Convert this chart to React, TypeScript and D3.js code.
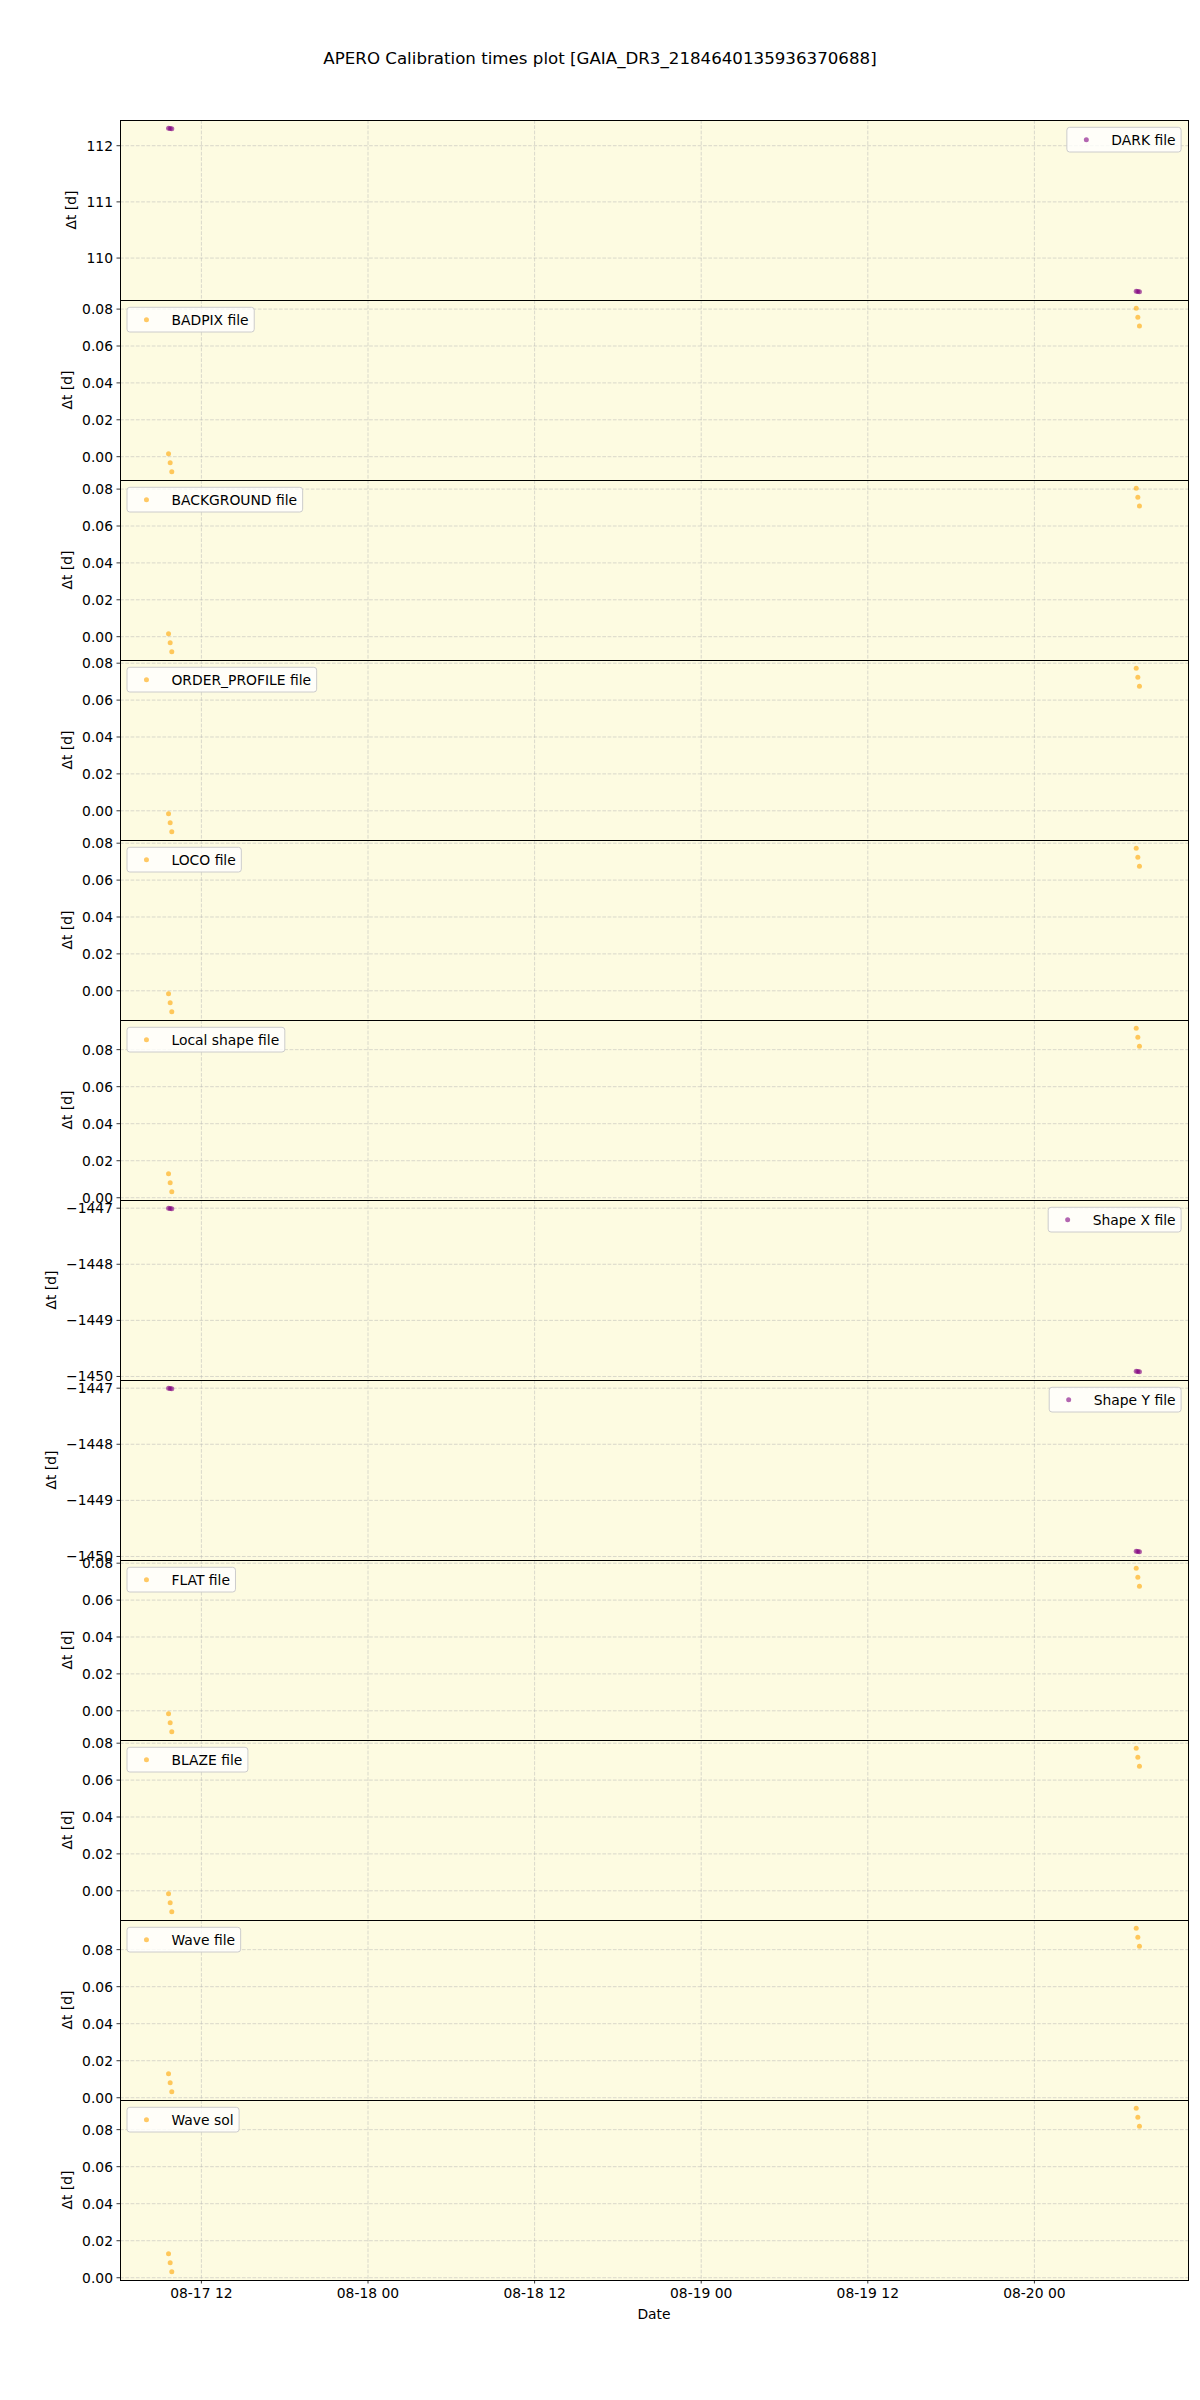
import React from "react";
import * as d3 from "d3";

const title = "APERO Calibration times plot [GAIA_DR3_2184640135936370688]";

// observation times (x) of the six points
const obsTimes = [
  "2023-08-17T09:38:00Z",
  "2023-08-17T09:45:00Z",
  "2023-08-17T09:52:00Z",
  "2023-08-20T07:20:00Z",
  "2023-08-20T07:27:00Z",
  "2023-08-20T07:34:00Z",
];

// Δt values per calibration type (days)
const darkDt = [112.312, 112.307, 112.302, 109.409, 109.404, 109.399];
const badpixDt = [0.0016, -0.0033, -0.0082, 0.0805, 0.0756, 0.0708];
const backgroundDt = [0.0016, -0.0033, -0.0082, 0.0805, 0.0756, 0.0708];
const orderProfileDt = [-0.0016, -0.0065, -0.0114, 0.0773, 0.0724, 0.0675];
const locoDt = [-0.0016, -0.0065, -0.0114, 0.0773, 0.0724, 0.0675];
const localShapeDt = [0.013, 0.0081, 0.0032, 0.0916, 0.0867, 0.0818];
const shapeXDt = [-1447.0, -1447.005, -1447.01, -1449.907, -1449.912, -1449.917];
const shapeYDt = [-1447.0, -1447.005, -1447.01, -1449.907, -1449.912, -1449.917];
const flatDt = [-0.0016, -0.0065, -0.0114, 0.0773, 0.0724, 0.0675];
const blazeDt = [-0.0016, -0.0065, -0.0114, 0.0773, 0.0724, 0.0675];
const waveFileDt = [0.013, 0.0081, 0.0032, 0.0916, 0.0867, 0.0818];
const waveSolDt = [0.013, 0.0081, 0.0032, 0.0916, 0.0867, 0.0818];

// tick values
const xTickTimes = [
  "2023-08-17T12:00:00Z",
  "2023-08-18T00:00:00Z",
  "2023-08-18T12:00:00Z",
  "2023-08-19T00:00:00Z",
  "2023-08-19T12:00:00Z",
  "2023-08-20T00:00:00Z",
];
const darkTicks = [110, 111, 112];
const fileTicks = [0, 0.02, 0.04, 0.06, 0.08];
const shapeTicks = [-1450, -1449, -1448, -1447];

const panelLabels = [
  "DARK file",
  "BADPIX file",
  "BACKGROUND file",
  "ORDER_PROFILE file",
  "LOCO file",
  "Local shape file",
  "Shape X file",
  "Shape Y file",
  "FLAT file",
  "BLAZE file",
  "Wave file",
  "Wave sol",
];
const panelValues = [
  darkDt, badpixDt, backgroundDt, orderProfileDt, locoDt, localShapeDt,
  shapeXDt, shapeYDt, flatDt, blazeDt, waveFileDt, waveSolDt,
];
const panelTicks = [
  darkTicks, fileTicks, fileTicks, fileTicks, fileTicks, fileTicks,
  shapeTicks, shapeTicks, fileTicks, fileTicks, fileTicks, fileTicks,
];
const panelKinds = ["big", "file", "file", "file", "file", "file", "big", "big", "file", "file", "file", "file"];

const W = 1200;
const H = 2400;
const LEFT = 120;
const RIGHT = 1188;
const TOP = 120;
const PH = 180;
const FS = 13.89;
const FONT = "DejaVu Sans";
const BG = "#fdfbe1";
const ORANGE = "#ffa500";
const PURPLE = "#800080";

function measure(txt: string, size: number) {
  const c = document.createElement("canvas").getContext("2d");
  if (!c) return txt.length * size * 0.6;
  c.font = `${size}px "${FONT}"`;
  return c.measureText(txt).width;
}

function padExtent(vals: number[]): [number, number] {
  const [a, b] = d3.extent(vals) as [number, number];
  const m = (b - a) * 0.05;
  return [a - m, b + m];
}

export default function App() {
  const times = obsTimes.map((s) => new Date(s));
  const tExt = d3.extent(times) as [Date, Date];
  const tPad = (tExt[1].getTime() - tExt[0].getTime()) * 0.05;
  const x = d3
    .scaleUtc()
    .domain([new Date(tExt[0].getTime() - tPad), new Date(tExt[1].getTime() + tPad)])
    .range([LEFT, RIGHT]);
  const xTicks = xTickTimes.map((s) => new Date(s));
  const fmtX = d3.utcFormat("%m-%d %H");
  const bottom = TOP + PH * panelLabels.length;

  return (
    <svg
      width={W}
      height={H}
      style={{ position: "absolute", left: 0, top: 0, background: "#fff" }}
      fontFamily={FONT}
    >
      <rect x={0} y={0} width={W} height={H} fill="#fff" />
      <text x={600} y={64} textAnchor="middle" fontSize={16.67} fill="#000">
        {title}
      </text>
      {panelLabels.map((label, i) => {
        const vals = panelValues[i];
        const y0 = TOP + i * PH;
        const y = d3.scaleLinear().domain(padExtent(vals)).range([y0 + PH, y0]);
        const [d0, d1] = y.domain();
        const ticks = panelTicks[i].filter((t) => t >= d0 - 1e-9 && t <= d1 + 1e-9);
        const fmtY = panelKinds[i] === "file" ? d3.format(".2f") : d3.format("d");
        const isPurple = panelKinds[i] === "big";
        const color = isPurple ? PURPLE : ORANGE;
        const tickLabels = ticks.map((t) => fmtY(t));
        const maxW = d3.max(tickLabels, (s) => measure(s, FS)) || 0;
        const ylabX = LEFT - 7 - maxW - 15.5;
        // legend
        const txtW = measure(label, FS);
        const boxW = 5.56 * 2 + 27.8 + 11.1 + txtW;
        const boxH = 24.7;
        const legRight = isPurple;
        const boxX = legRight ? RIGHT - 6.9 - boxW : LEFT + 7;
        const boxY = y0 + 7.3;
        return (
          <g key={label}>
            <rect x={LEFT} y={y0} width={RIGHT - LEFT} height={PH} fill={BG} />
            {xTicks.map((t, k) => (
              <line
                key={"gx" + k}
                x1={x(t)}
                x2={x(t)}
                y1={y0}
                y2={y0 + PH}
                stroke="#b0b0b0"
                strokeOpacity={0.6}
                strokeWidth={0.8}
                strokeDasharray="3.7 1.6"
              />
            ))}
            {ticks.map((t, k) => (
              <line
                key={"gy" + k}
                x1={LEFT}
                x2={RIGHT}
                y1={y(t)}
                y2={y(t)}
                stroke="#b0b0b0"
                strokeOpacity={0.6}
                strokeWidth={0.8}
                strokeDasharray="3.7 1.6"
              />
            ))}
            {vals.map((v, k) => (
              <circle key={"p" + k} cx={x(times[k])} cy={y(v)} r={2.5} fill={color} fillOpacity={0.6} />
            ))}
            <rect
              x={LEFT}
              y={y0}
              width={RIGHT - LEFT}
              height={PH}
              fill="none"
              stroke="#000"
              strokeWidth={1}
              shapeRendering="crispEdges"
            />
            {ticks.map((t, k) => (
              <g key={"ty" + k}>
                <line x1={LEFT - 3.5} x2={LEFT} y1={y(t)} y2={y(t)} stroke="#000" strokeWidth={0.8} />
                <text
                  x={LEFT - 7}
                  y={y(t)}
                  dy="0.36em"
                  textAnchor="end"
                  fontSize={FS}
                  fill="#000"
                >
                  {tickLabels[k]}
                </text>
              </g>
            ))}
            <text
              transform={`translate(${ylabX},${y0 + PH / 2}) rotate(-90)`}
              dy="0.36em"
              textAnchor="middle"
              fontSize={FS}
              fill="#000"
            >
              Δt [d]
            </text>
            <rect
              x={boxX}
              y={boxY}
              width={boxW}
              height={boxH}
              rx={2.8}
              fill="#fff"
              fillOpacity={0.8}
              stroke="#cccccc"
              strokeWidth={1}
            />
            <circle cx={boxX + 5.56 + 13.9} cy={boxY + boxH / 2} r={2.5} fill={color} fillOpacity={0.6} />
            <text
              x={boxX + 5.56 + 27.8 + 11.1}
              y={boxY + boxH / 2}
              dy="0.36em"
              fontSize={FS}
              fill="#000"
            >
              {label}
            </text>
          </g>
        );
      })}
      {xTicks.map((t, k) => (
        <g key={"tx" + k}>
          <line x1={x(t)} x2={x(t)} y1={bottom} y2={bottom + 3.5} stroke="#000" strokeWidth={0.8} />
          <text x={x(t)} y={bottom + 18} textAnchor="middle" fontSize={FS} fill="#000">
            {fmtX(t)}
          </text>
        </g>
      ))}
      <text x={(LEFT + RIGHT) / 2} y={bottom + 39} textAnchor="middle" fontSize={FS} fill="#000">
        Date
      </text>
    </svg>
  );
}
